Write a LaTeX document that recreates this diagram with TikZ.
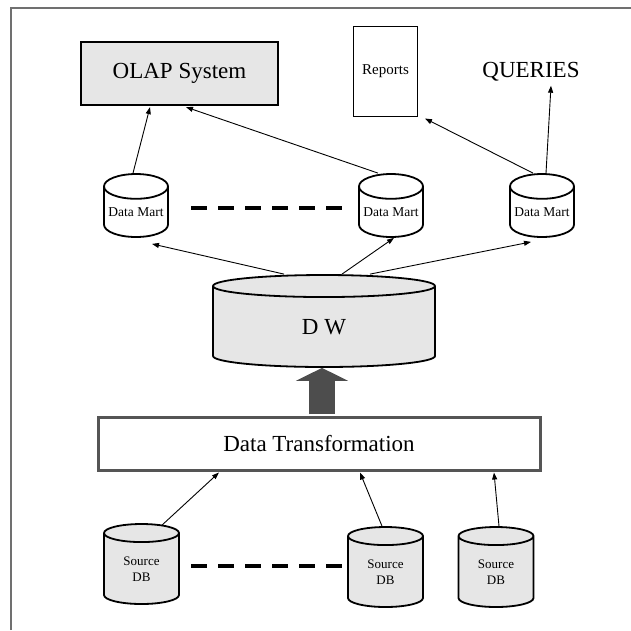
\documentclass[tikz,border=0pt]{standalone}
\usepackage{fontspec}
\setmainfont{Liberation Serif}
\usetikzlibrary{shapes.geometric,arrows.meta}
\definecolor{boxgray}{HTML}{E6E6E6}
\definecolor{framegray}{HTML}{707070}
\definecolor{arrowgray}{HTML}{4D4D4D}
\definecolor{dtgray}{HTML}{555555}
\tikzset{
  dbcyl/.style={cylinder, shape border rotate=90, draw, line width=1.8pt, inner sep=0pt, anchor=shape center},
  mart/.style={dbcyl, fill=white, aspect=0.45, minimum width=64pt, minimum height=63pt, font=\fontsize{13.5}{16}\selectfont},
  source/.style={dbcyl, fill=boxgray, aspect=0.5, minimum width=75pt, minimum height=80pt, align=center, font=\fontsize{13}{16}\selectfont},
  link/.style={-{Triangle[length=7pt,width=5pt]}, line width=0.9pt},
  dots/.style={line width=4pt, dash pattern=on 16pt off 11pt},
}
\begin{document}
\begin{tikzpicture}[x=1pt, y=-1pt]
    \useasboundingbox (0,0) rectangle (631,630);
    % frame
    \draw[framegray, line width=1.5pt] (11,630) -- (11,8) -- (631,8);

    % top row
    \node[draw, line width=2.2pt, fill=boxgray, minimum width=197pt, minimum height=63pt, font=\fontsize{23}{27}\selectfont] (olap) at (179.5,73.5) {OLAP System};
    \node[draw, line width=1pt, minimum width=64pt, minimum height=90pt, font=\fontsize{15}{18}\selectfont] (reports) at (385.5,71) {Reports};
    \node[font=\fontsize{23}{27}\selectfont, inner sep=2pt] (queries) at (531,72) {QUERIES};

    % data marts
    \node[mart] (dm1) at (136,205.5) {Data Mart};
    \node[mart] (dm2) at (391,205.5) {Data Mart};
    \node[mart] (dm3) at (542,205.5) {Data Mart};
    \draw[dots] ([xshift=55pt,yshift=-2.5pt]dm1.shape center) -- ([xshift=-49pt,yshift=-2.5pt]dm2.shape center);

    % warehouse
    \node[dbcyl, fill=boxgray, aspect=0.5, minimum width=222pt, minimum height=92pt, font=\fontsize{23}{27}\selectfont] (dw) at (324,321) {D W};

    % transformation
    \node[draw=dtgray, line width=3pt, fill=white, minimum width=442pt, minimum height=53pt, font=\fontsize{23}{27}\selectfont] (dt) at (319,443.5) {Data Transformation};
    \draw[arrowgray, line width=26pt, -{Triangle[length=13pt,width=52pt]}] ([xshift=3pt,yshift=1.5pt]dt.north) -- ([xshift=3pt]dt.north |- dw.south);

    % sources
    \node[source] (sdb1) at (141.5,564) {Source\\DB};
    \node[source] (sdb2) at (385.5,567) {Source\\DB};
    \node[source] (sdb3) at (496,567) {Source\\DB};
    \draw[dots] ([xshift=49.5pt,yshift=-2pt]sdb1.shape center) -- ([xshift=-43.5pt,yshift=1pt]sdb2.shape center);

    % arrows
    \draw[link] ([xshift=-3pt]dm1.north) -- ([xshift=-29.5pt,yshift=-1pt]olap.south);
    \draw[link] ([xshift=-13pt]dm2.north) -- ([xshift=6.5pt,yshift=-1pt]olap.south);
    \draw[link] ([xshift=-9pt]dm3.north) -- ([xshift=7pt,yshift=-2pt]reports.south east);
    \draw[link] ([xshift=4pt]dm3.north) -- ([xshift=20pt,yshift=-2pt]queries.south);
    \draw[link] ([xshift=-40pt]dw.north) -- ([xshift=16pt,yshift=-6pt]dm1.south);
    \draw[link] ([xshift=18pt]dw.north) -- ([xshift=3pt]dm2.south);
    \draw[link] ([xshift=46pt]dw.north) -- ([xshift=-11pt,yshift=-4pt]dm3.south);
    \draw[link] ([xshift=20.5pt,yshift=-2pt]sdb1.north) -- ([xshift=-100pt,yshift=-1pt]dt.south);
    \draw[link] ([xshift=-3.5pt]sdb2.north) -- ([xshift=41pt,yshift=-1pt]dt.south);
    \draw[link] ([xshift=3pt]sdb3.north) -- ([xshift=175pt,yshift=-1pt]dt.south);
\end{tikzpicture}
\end{document}
